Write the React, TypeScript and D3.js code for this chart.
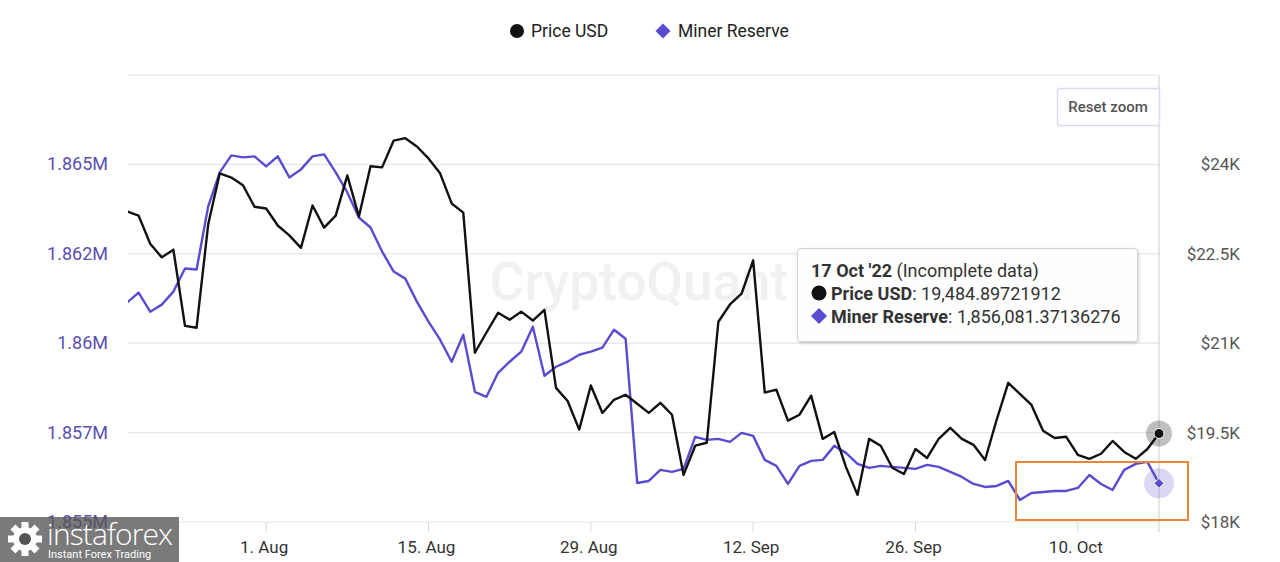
import * as d3 from "d3";

const startDay = new Date(Date.UTC(2022, 6, 20));
const endDay = new Date(Date.UTC(2022, 9, 17));

// daily closes, Jul 20 .. Oct 17 2022
const priceUsd = [
  23210, 23140, 22670, 22440, 22570, 21290, 21260, 22990, 23850, 23780,
  23650, 23290, 23260, 22975, 22810, 22600, 23310, 22940, 23140, 23815,
  23125, 23970, 23950, 24400, 24440, 24300, 24100, 23850, 23345, 23190,
  20840, 21180, 21510, 21395, 21530, 21380, 21560, 20250, 20030, 19550,
  20290, 19830, 20050, 20135, 19985, 19830, 20000, 19800, 18790, 19280,
  19330, 21360, 21650, 21830, 22390, 20170, 20220, 19700, 19800, 20120,
  19395, 19510, 18925, 18455, 19395, 19280, 18910, 18805, 19225, 19075,
  19395, 19580, 19395, 19295, 19040, 19715, 20335, 20150, 19965, 19530,
  19410, 19430, 19125, 19060, 19145, 19360, 19175, 19060, 19225, 19484.89721912,
];

const minerReserve = [
  1861134, 1861414, 1860882, 1861078, 1861442, 1862087, 1862059, 1863823, 1864775, 1865252,
  1865196, 1865224, 1864944, 1865224, 1864635, 1864860, 1865224, 1865280, 1864775, 1864215,
  1863515, 1863235, 1862563, 1862003, 1861806, 1861162, 1860602, 1860098, 1859482, 1860238,
  1858641, 1858501, 1859173, 1859482, 1859762, 1860462, 1859089, 1859342, 1859482, 1859678,
  1859762, 1859874, 1860378, 1860126, 1856092, 1856148, 1856457, 1856400, 1856485, 1857381,
  1857297, 1857325, 1857241, 1857493, 1857409, 1856737, 1856569, 1856064, 1856569, 1856709,
  1856737, 1857129, 1856933, 1856625, 1856513, 1856569, 1856541, 1856513, 1856485, 1856597,
  1856541, 1856400, 1856260, 1856064, 1855980, 1856008, 1856148, 1855616, 1855812, 1855840,
  1855868, 1855868, 1855952, 1856316, 1856064, 1855896, 1856457, 1856625, 1856681, 1856081.37136276,
];

const reserveTicks = [1855000, 1857500, 1860000, 1862500, 1865000];
const reserveTickLabels = ["1.855M", "1.857M", "1.86M", "1.862M", "1.865M"];
const priceTicks = [18000, 19500, 21000, 22500, 24000];
const priceTickLabels = ["$18K", "$19.5K", "$21K", "$22.5K", "$24K"];
const xTickDates = ["2022-08-01", "2022-08-15", "2022-08-29", "2022-09-12", "2022-09-26", "2022-10-10"];
const xTickLabels = ["1. Aug", "15. Aug", "29. Aug", "12. Sep", "26. Sep", "10. Oct"];

const PURPLE = "#5a4ccf";
const PURPLE_TEXT = "#5b4fae";
const FONT = "Roboto, 'Noto Sans', sans-serif";

export default function App() {
  const W = 1280;
  const H = 562;
  const plot = { left: 128, right: 1159, top: 75, bottom: 522 };

  const days = d3.utcDays(startDay, d3.utcDay.offset(endDay, 1));
  const x = d3.scaleUtc().domain([startDay, endDay]).range([127, plot.right]);
  const yL = d3.scaleLinear().domain([1855000, 1867500]).range([plot.bottom, plot.top]);
  const yR = d3.scaleLinear().domain([18000, 25500]).range([plot.bottom, plot.top]);

  const priceLine = d3
    .line<number>()
    .x((_, i) => x(days[i]))
    .y((d) => yR(d));
  const reserveLine = d3
    .line<number>()
    .x((_, i) => x(days[i]))
    .y((d) => yL(d));

  const gridVals = [...reserveTicks, 1867500];
  const lastX = x(days[days.length - 1]);
  const lastPY = yR(priceUsd[priceUsd.length - 1]);
  const lastRY = yL(minerReserve[minerReserve.length - 1]);

  const diamond = (cx: number, cy: number, r: number) =>
    `M${cx},${cy - r}L${cx + r},${cy}L${cx},${cy + r}L${cx - r},${cy}Z`;

  return (
    <svg width={W} height={H} style={{ position: "absolute", left: 0, top: 0, background: "#fff" }} fontFamily={FONT}>
      <defs>
        <clipPath id="plotClip">
          <rect x={plot.left} y={plot.top - 5} width={plot.right - plot.left + 1} height={plot.bottom - plot.top + 10} />
        </clipPath>
        <filter id="tipShadow" x="-10%" y="-20%" width="120%" height="150%">
          <feDropShadow dx="1" dy="1.5" stdDeviation="1.5" floodColor="#000" floodOpacity="0.18" />
        </filter>
      </defs>

      {/* legend */}
      <circle cx={517} cy={31} r={7} fill="#111" />
      <text x={531} y={37} fontSize={17.5} fill="#222">Price USD</text>
      <path d={diamond(663, 31, 7.5)} fill={PURPLE} />
      <text x={678} y={37} fontSize={17.5} fill="#222">Miner Reserve</text>

      {/* grid */}
      {gridVals.map((v) => (
        <line key={v} x1={plot.left} x2={plot.right} y1={yL(v)} y2={yL(v)} stroke="#e6e6e6" strokeWidth={1.2} />
      ))}
      <line x1={plot.right} x2={plot.right} y1={plot.top} y2={plot.bottom + 10} stroke="#d6d6d6" strokeWidth={1.2} />

      {/* watermark */}
      <text x={639} y={300} textAnchor="middle" fontSize={53} fill="#f1f1f4" fontWeight={500}>CryptoQuant</text>

      {/* x ticks */}
      {xTickDates.map((d, i) => {
        const xx = x(new Date(d + "T00:00:00Z"));
        return (
          <g key={d}>
            <line x1={xx} x2={xx} y1={plot.bottom} y2={plot.bottom + 10} stroke="#d6d6d6" />
            <text x={xx - 2} y={553} textAnchor="middle" fontSize={17} fill="#333">{xTickLabels[i]}</text>
          </g>
        );
      })}

      {/* left axis */}
      {reserveTicks.map((v, i) => (
        <text key={v} x={108} y={yL(v) + 6} textAnchor="end" fontSize={18} fill={PURPLE_TEXT}>{reserveTickLabels[i]}</text>
      ))}
      {/* right axis */}
      {priceTicks.map((v, i) => (
        <text key={v} x={1240} y={yR(v) + 6} textAnchor="end" fontSize={17} fill="#555">{priceTickLabels[i]}</text>
      ))}

      {/* series */}
      <g clipPath="url(#plotClip)">
        <path d={reserveLine(minerReserve) ?? ""} fill="none" stroke={PURPLE} strokeWidth={2.4} strokeLinejoin="round" />
        <path d={priceLine(priceUsd) ?? ""} fill="none" stroke="#111" strokeWidth={2.4} strokeLinejoin="round" />
      </g>

      {/* hover markers */}
      <circle cx={lastX} cy={lastPY} r={13} fill="rgba(0,0,0,0.25)" />
      <circle cx={lastX} cy={lastPY} r={5} fill="#111" stroke="#fff" strokeWidth={1} />
      <circle cx={lastX} cy={lastRY} r={15} fill="rgba(90,76,207,0.22)" />
      <path d={diamond(lastX, lastRY, 5)} fill={PURPLE} stroke="#fff" strokeWidth={1} />

      {/* highlight box */}
      <rect x={1016} y={462} width={172} height={58} fill="none" stroke="#e8873a" strokeWidth={2} />

      {/* reset zoom */}
      <rect x={1057.5} y={88.5} width={102} height={37} rx={2} fill="#fff" stroke="#d9dcf2" strokeWidth={1.5} />
      <text x={1108} y={112} textAnchor="middle" fontSize={15} fontWeight={500} fill="#555">Reset zoom</text>

      {/* tooltip */}
      <rect x={797.5} y={248.5} width={340} height={93} rx={3} fill="rgba(255,255,255,0.94)" stroke="#d0d0d0" filter="url(#tipShadow)" />
      <text x={811} y={277} fontSize={18} fill="#333">
        <tspan fontWeight={700}>17 Oct '22</tspan>
        <tspan> (Incomplete data)</tspan>
      </text>
      <circle cx={819} cy={293} r={7.5} fill="#111" />
      <text x={831} y={300} fontSize={18} fill="#333">
        <tspan fontWeight={700}>Price USD</tspan>
        <tspan>: 19,484.89721912</tspan>
      </text>
      <path d={diamond(819, 316, 8)} fill={PURPLE} />
      <text x={831} y={323} fontSize={18} fill="#333">
        <tspan fontWeight={700}>Miner Reserve</tspan>
        <tspan>: 1,856,081.37136276</tspan>
      </text>

      {/* instaforex badge */}
      <rect x={0} y={517} width={179} height={45} fill="rgba(85,85,85,0.78)" />
      <g transform="translate(25,539)" fill="#fff">
        {d3.range(8).map((k) => (
          <rect key={k} x={-3.5} y={-17} width={7} height={8} transform={`rotate(${k * 45})`} />
        ))}
        <circle r={12} />
        <circle r={6} fill="rgba(85,85,85,1)" />
      </g>
      <text x={47} y={545} fontSize={30} fill="#fff" fontFamily="'Open Sans', sans-serif" fontWeight={300} textLength={126}>instaforex</text>
      <text x={48} y={558} fontSize={11} fill="#fff">Instant Forex Trading</text>
    </svg>
  );
}
